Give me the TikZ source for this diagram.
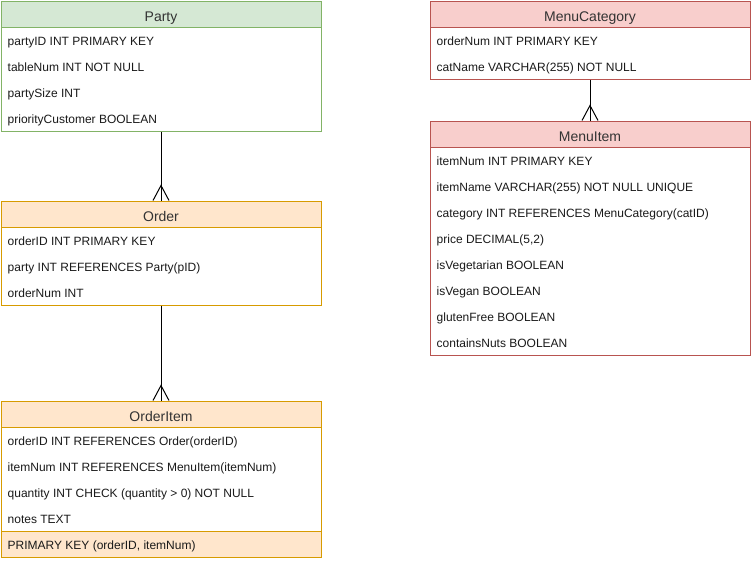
\documentclass[tikz,border=0pt]{standalone}
\usepackage{fontspec}
\setmainfont{Liberation Sans}
\usetikzlibrary{calc,positioning}

\definecolor{greenfill}{HTML}{D5E8D4}
\definecolor{greenline}{HTML}{82B366}
\definecolor{orangefill}{HTML}{FFE6CC}
\definecolor{orangeline}{HTML}{D79B00}
\definecolor{redfill}{HTML}{F8CECC}
\definecolor{redline}{HTML}{B85450}
\definecolor{txt}{HTML}{1A1A1A}
\definecolor{headtxt}{HTML}{333333}

\tikzset{
  tablebox/.style={draw, fill=white, line width=1pt, anchor=north west,
                   minimum width=320pt, inner sep=0pt},
  headbox/.style={draw, line width=1pt, anchor=north west, minimum width=320pt,
                  minimum height=26pt, inner sep=0pt, text height=15pt, text depth=0pt,
                  font=\fontsize{14}{16}\selectfont, text=headtxt},
  keybox/.style={headbox, anchor=south west},
  field/.style={anchor=base west, inner sep=0pt},
  link/.style={line width=1pt, black},
}

\begin{document}
\begin{tikzpicture}[x=1pt,y=1pt,font=\fontsize{12}{14}\selectfont,text=txt]
    \newcommand{\rowh}{26} % height of one row
    \newcommand{\foot}{8}  % half width of the crow's foot
    \newcommand{\footh}{15}
    \newcommand{\crow}[1]{\draw[link] (#1) +(-\foot,0) -- +(0,\footh) -- +(\foot,0);}

    \useasboundingbox (0,0) rectangle (751,-560);

    % Party
    \node[tablebox, draw=greenline, minimum height=130pt] (party) at (0.5,-0.5) {};
    \node[headbox, fill=greenfill, draw=greenline] (partyhead) at (party.north west) {Party};
    \foreach \f [count=\i] in {partyID INT PRIMARY KEY, tableNum INT NOT NULL,
                               partySize INT, priorityCustomer BOOLEAN}
      \node[field] (party\i) at ($(party.north west)+(7,-19-\i*\rowh)$) {\f};

    % Order
    \node[tablebox, draw=orangeline, minimum height=104pt] (order) at (0.5,-200.5) {};
    \node[headbox, fill=orangefill, draw=orangeline] (orderhead) at (order.north west) {Order};
    \foreach \f [count=\i] in {orderID INT PRIMARY KEY, party INT REFERENCES Party(pID),
                               orderNum INT}
      \node[field] (order\i) at ($(order.north west)+(7,-19-\i*\rowh)$) {\f};

    % OrderItem
    \node[tablebox, draw=orangeline, minimum height=156pt] (orderitem) at (0.5,-400.5) {};
    \node[headbox, fill=orangefill, draw=orangeline] (orderitemhead) at (orderitem.north west) {OrderItem};
    \node[keybox, fill=orangefill, draw=orangeline] (orderitemkey) at (orderitem.south west) {};
    \foreach \f [count=\i] in {orderID INT REFERENCES Order(orderID),
                               itemNum INT REFERENCES MenuItem(itemNum),
                               quantity INT CHECK (quantity > 0) NOT NULL,
                               notes TEXT, {PRIMARY KEY (orderID, itemNum)}}
      \node[field] (orderitem\i) at ($(orderitem.north west)+(7,-19-\i*\rowh)$) {\f};

    % MenuCategory
    \node[tablebox, draw=redline, minimum height=78pt] (menucat) at (429.5,-0.5) {};
    \node[headbox, fill=redfill, draw=redline] (menucathead) at (menucat.north west) {MenuCategory};
    \foreach \f [count=\i] in {orderNum INT PRIMARY KEY, catName VARCHAR(255) NOT NULL}
      \node[field] (menucat\i) at ($(menucat.north west)+(7,-19-\i*\rowh)$) {\f};

    % MenuItem
    \node[tablebox, draw=redline, minimum height=234pt] (menuitem) at (429.5,-120.5) {};
    \node[headbox, fill=redfill, draw=redline] (menuitemhead) at (menuitem.north west) {MenuItem};
    \foreach \f [count=\i] in {itemNum INT PRIMARY KEY, itemName VARCHAR(255) NOT NULL UNIQUE,
                               category INT REFERENCES MenuCategory(catID), {price DECIMAL(5,2)},
                               isVegetarian BOOLEAN, isVegan BOOLEAN, glutenFree BOOLEAN,
                               containsNuts BOOLEAN}
      \node[field] (menuitem\i) at ($(menuitem.north west)+(7,-19-\i*\rowh)$) {\f};

    % relations
    \draw[link] (party.south) -- (orderhead.north);
    \crow{orderhead.north}
    \draw[link] (order.south) -- (orderitemhead.north);
    \crow{orderitemhead.north}
    \draw[link] (menucat.south) -- (menuitemhead.north);
    \crow{menuitemhead.north}
\end{tikzpicture}
\end{document}
